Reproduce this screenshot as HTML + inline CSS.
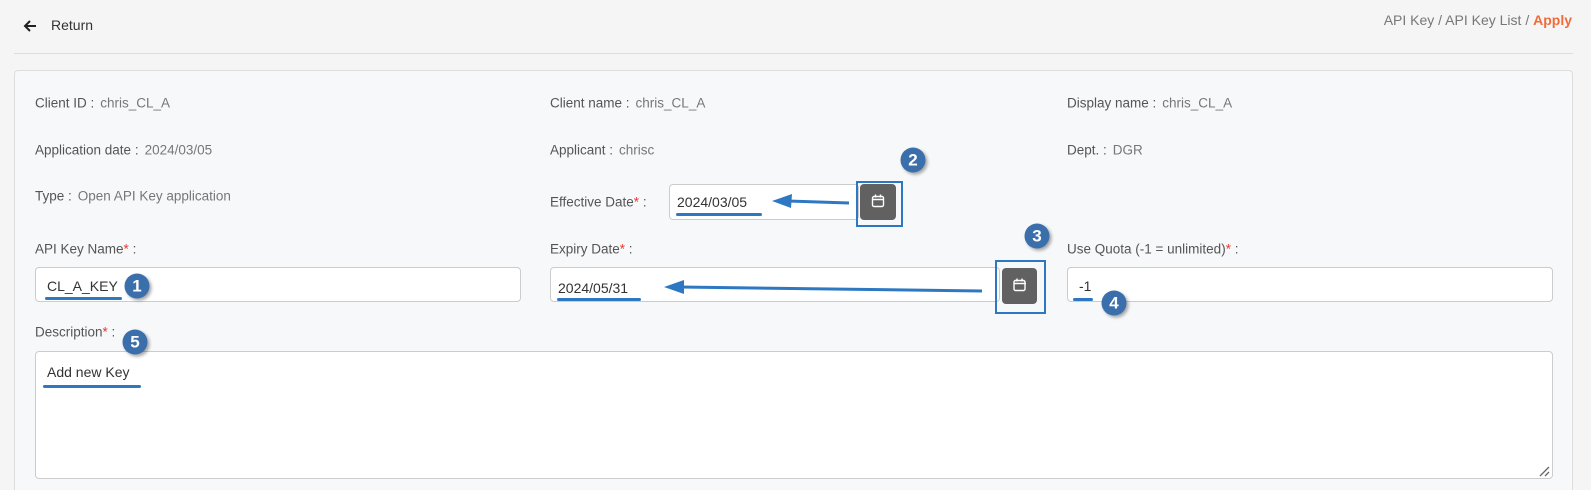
<!DOCTYPE html>
<html><head><meta charset="utf-8"><style>
*{box-sizing:border-box;margin:0;padding:0}
html{width:1591px;height:490px;overflow:hidden}
body{width:1591px;height:490px;background:#f5f5f5;font-family:"Liberation Sans",sans-serif;position:relative;overflow:hidden}
.a{position:absolute;white-space:nowrap}
.lbl{font-size:13.5px;color:#555;transform:translateY(-50%)}
.lbl .v{color:#777;margin-left:6px}
.lbl .r{color:#e53935}
.inp{position:absolute;background:#fff;border:1px solid #ccc;border-radius:4px}
.txt{position:absolute;font-size:14px;color:#333;transform:translateY(-50%)}
.btn{position:absolute;background:#616161;border-radius:4px}
.box{position:absolute;border:2.5px solid #2e78c2}
.badge{position:absolute;width:25px;height:25px;border-radius:50%;background:#3b6fab;color:#fff;font-weight:bold;font-size:17px;text-align:center;line-height:25px;box-shadow:2px 2px 3px rgba(0,0,0,.35);transform:translate(-50%,-50%)}
.ul{position:absolute;height:2.5px;background:#2e78c2;border-radius:2px}
</style></head><body>
<svg class="a" style="left:22px;top:18px" width="16" height="16" viewBox="0 0 16 16"><path d="M14 8H3M8 3L3 8l5 5" stroke="#222" stroke-width="2" fill="none"/></svg>
<div class="a" style="left:51px;top:17px;font-size:14px;color:#333">Return</div>
<div class="a" style="right:19px;top:12px;font-size:14px;color:#777">API Key / API Key List / <b style="color:#f26b3a">Apply</b></div>
<div class="a" style="left:14px;top:53px;width:1559px;height:1px;background:#ddd"></div>
<div class="a" style="left:14px;top:70px;width:1559px;height:420px;background:#f7f8fa;border:1px solid #ddd;border-bottom:none;border-radius:4px 4px 0 0"></div>

<div class="a lbl" style="left:35px;top:103px">Client ID :<span class="v">chris_CL_A</span></div>
<div class="a lbl" style="left:550px;top:103px">Client name :<span class="v">chris_CL_A</span></div>
<div class="a lbl" style="left:1067px;top:103px">Display name :<span class="v">chris_CL_A</span></div>
<div class="a lbl" style="left:35px;top:150px">Application date :<span class="v">2024/03/05</span></div>
<div class="a lbl" style="left:550px;top:150px">Applicant :<span class="v">chrisc</span></div>
<div class="a lbl" style="left:1067px;top:150px">Dept. :<span class="v">DGR</span></div>
<div class="a lbl" style="left:35px;top:196px">Type :<span class="v">Open API Key application</span></div>
<div class="a lbl" style="left:550px;top:202px">Effective Date<span class="r">*</span> :</div>

<div class="inp" style="left:669px;top:184px;width:190px;height:36px"></div>
<div class="txt" style="left:677px;top:202px">2024/03/05</div>
<div class="btn" style="left:860px;top:184px;width:36px;height:36px"></div>
<div class="box" style="left:856px;top:181px;width:47px;height:46px"></div>

<div class="a lbl" style="left:35px;top:249px">API Key Name<span class="r">*</span> :</div>
<div class="a lbl" style="left:550px;top:249px">Expiry Date<span class="r">*</span> :</div>
<div class="a lbl" style="left:1067px;top:249px">Use Quota (-1 = unlimited)<span class="r">*</span> :</div>

<div class="inp" style="left:35px;top:267px;width:486px;height:35px"></div>
<div class="txt" style="left:47px;top:286px">CL_A_KEY</div>
<div class="inp" style="left:550px;top:267px;width:450px;height:35px"></div>
<div class="txt" style="left:558px;top:288px">2024/05/31</div>
<div class="btn" style="left:1002px;top:268px;width:35px;height:36px"></div>
<div class="box" style="left:995px;top:260px;width:51px;height:54px"></div>
<div class="inp" style="left:1067px;top:267px;width:486px;height:35px"></div>
<div class="txt" style="left:1079px;top:286px">-1</div>

<div class="a lbl" style="left:35px;top:332px">Description<span class="r">*</span> :</div>
<div class="inp" style="left:35px;top:351px;width:1518px;height:128px"></div>
<div class="txt" style="left:47px;top:372px">Add new Key</div>
<svg class="a" style="left:1538px;top:465px" width="12" height="12"><path d="M2 11L11 2M7 11L11 7" stroke="#666" stroke-width="1.3"/></svg>

<svg class="a" style="left:0;top:0" width="1591" height="490">
<g fill="none" stroke="#fff" stroke-width="1.4">
<rect x="872.5" y="196.5" width="11" height="10" rx="1.5"/><path d="M872 199.5h12M875.5 194.5v3M880.5 194.5v3"/>
<rect x="1014" y="280.5" width="11" height="10" rx="1.5"/><path d="M1014 283.5h12M1017 278.5v3M1022 278.5v3"/>
</g>
<g stroke="#2e78c2" stroke-width="3" fill="#2e78c2">
<line x1="849" y1="203" x2="788" y2="201"/><polygon points="772,201 792,194 791,208" stroke="none"/>
<line x1="982" y1="291" x2="680" y2="287"/><polygon points="664,287 684,280 684,294" stroke="none"/>
</g>
</svg>
<div class="ul" style="left:45px;top:297px;width:77px"></div>
<div class="ul" style="left:676px;top:213px;width:86px"></div>
<div class="ul" style="left:557px;top:298px;width:84px"></div>
<div class="ul" style="left:1073px;top:298px;width:20px"></div>
<div class="ul" style="left:43px;top:385px;width:98px"></div>

<div class="badge" style="left:137px;top:286px">1</div>
<div class="badge" style="left:913px;top:160px">2</div>
<div class="badge" style="left:1037px;top:236px">3</div>
<div class="badge" style="left:1114px;top:303px">4</div>
<div class="badge" style="left:135px;top:342px">5</div>
</body></html>
